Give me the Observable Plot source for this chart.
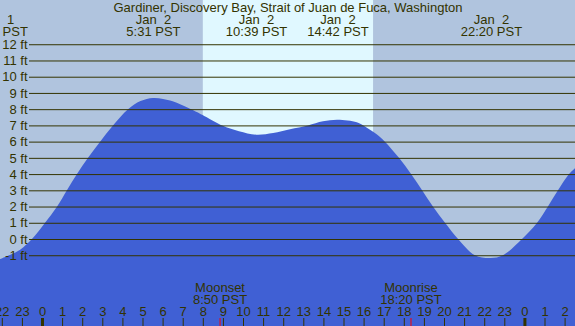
<!DOCTYPE html>
<html>
<head>
<meta charset="utf-8">
<script src="https://cdn.jsdelivr.net/npm/d3@7"></script>
<script src="https://cdn.jsdelivr.net/npm/@observablehq/plot@0.6"></script>
<style>
  html, body { margin: 0; padding: 0; background: #b0c4de; }
  svg { display: block; }
  svg text { white-space: pre; }
</style>
</head>
<body>
<div id="chart"></div>
<script>
const title = "Gardiner, Discovery Bay, Strait of Juan de Fuca, Washington";

// tide curve: hour (PST, Jan 2 = 0..24) and height (ft)
const tideHours = [-2.09, -1.6, -1.09, -0.5, 0.15, 0.75, 1.24, 1.74, 2.29, 2.89, 3.53, 4.28, 4.9, 5.52, 6.02, 6.5, 7.36, 7.86, 8.01, 9.0, 9.8, 10.65, 11.5, 12.34, 13.23, 13.98, 14.7, 15.66, 15.99, 16.65, 17.06, 17.76, 18.36, 18.91, 19.45, 20.05, 20.7, 21.54, 22.33, 22.93, 23.88, 24.63, 25.17, 25.67, 26.22, 26.52];
const tideFeet  = [-1.23, -0.98, -0.66, 0, 1, 2, 3, 4, 5, 6, 7, 8, 8.5, 8.69, 8.63, 8.48, 8.02, 7.72, 7.63, 6.98, 6.64, 6.43, 6.53, 6.77, 7.0, 7.25, 7.35, 7.2, 7.0, 6.45, 6.0, 5.0, 4.0, 3.0, 2.0, 1.0, 0.0, -1.0, -1.17, -1.0, 0.0, 1.0, 2.0, 3.0, 4.0, 4.37];

// high / low tide labels
const extremeHours = [5.517, 10.65, 14.7, 22.333];
const extremeDates = ["Jan  2", "Jan  2", "Jan  2", "Jan  2"];
const extremeTimes = ["5:31 PST", "10:39 PST", "14:42 PST", "22:20 PST"];

// partially visible label at the left edge
const edgeDate = "1";
const edgeTime = "PST";

// moon events
const moonHours = [8.833, 18.333];
const moonNames = ["Moonset", "Moonrise"];
const moonTimes = ["8:50 PST", "18:20 PST"];

// daylight span
const sunriseHour = 8.0;
const sunsetHour = 16.47;

const ftLevels = [-1, 0, 1, 2, 3, 4, 5, 6, 7, 8, 9, 10, 11, 12];
const hourTicks = d3.range(-2, 27);
const midnightTicks = [0, 24];

const tide = tideHours.map((h, i) => ({h, v: tideFeet[i]}));
const extremes = extremeHours.map((h, i) => ({h, date: extremeDates[i], time: extremeTimes[i]}));
const moons = moonHours.map((h, i) => ({h, name: moonNames[i], time: moonTimes[i]}));

const xDomain = [-2.09, 26.517];
const yDomain = [-5.36, 14.726];
const ink = "#333300";
const font = "Liberation Sans, Arial, sans-serif";
const fs = 13;

const chart = Plot.plot({
  width: 575,
  height: 326,
  margin: 0,
  style: {fontFamily: font, fontSize: "13px", background: "#b0c4de"},
  x: {domain: xDomain, axis: null},
  y: {domain: yDomain, axis: null},
  marks: [
    Plot.frame({fill: "#b0c4de", stroke: "none"}),
    Plot.rect([{a: sunriseHour, b: sunsetHour}], {x1: "a", x2: "b", fill: "#e0f8ff"}),
    Plot.areaY(tide, {x: "h", y1: yDomain[0], y2: "v", curve: "catmull-rom", fill: "#4060d4", clip: true}),
    Plot.ruleY(ftLevels, {y: d => d, stroke: ink, strokeWidth: 1, insetLeft: 29}),
    Plot.text(ftLevels, {y: d => d, text: d => `${d} ft`, frameAnchor: "left", dx: 27, textAnchor: "end", fill: ink, fontSize: fs}),
    Plot.text([title], {text: d => d, frameAnchor: "top", lineAnchor: "top", dy: 1.8, fill: ink, fontSize: fs}),
    Plot.text(extremes, {x: "h", text: "date", frameAnchor: "top", lineAnchor: "top", dy: 14.3, fill: ink, fontSize: fs}),
    Plot.text(extremes, {x: "h", text: "time", frameAnchor: "top", lineAnchor: "top", dy: 26.4, fill: ink, fontSize: fs}),
    Plot.text([edgeDate], {text: d => d, frameAnchor: "top-left", textAnchor: "middle", dx: 10, dy: 14.3, lineAnchor: "top", fill: ink, fontSize: fs}),
    Plot.text([edgeTime], {text: d => d, frameAnchor: "top-left", textAnchor: "middle", dx: 14.7, dy: 26.4, lineAnchor: "top", fill: ink, fontSize: fs}),
    Plot.text(moons, {x: "h", text: "name", frameAnchor: "top", lineAnchor: "top", dy: 282.5, fill: ink, fontSize: fs}),
    Plot.text(moons, {x: "h", text: "time", frameAnchor: "top", lineAnchor: "top", dy: 294.3, fill: ink, fontSize: fs}),
    Plot.ruleX(hourTicks, {x: d => d, stroke: ink, strokeWidth: 1, insetTop: 318}),
    Plot.ruleX(midnightTicks, {x: d => d, stroke: ink, strokeWidth: 3, insetTop: 318}),
    Plot.ruleX(moonHours, {x: d => d, stroke: "#ff0000", strokeWidth: 1, insetTop: 318}),
    Plot.text(hourTicks, {x: d => d, text: d => String(((d % 24) + 24) % 24), frameAnchor: "bottom", lineAnchor: "middle", dy: -14.2, fill: ink, fontSize: fs})
  ]
});
document.getElementById("chart").appendChild(chart);
</script>
</body>
</html>
